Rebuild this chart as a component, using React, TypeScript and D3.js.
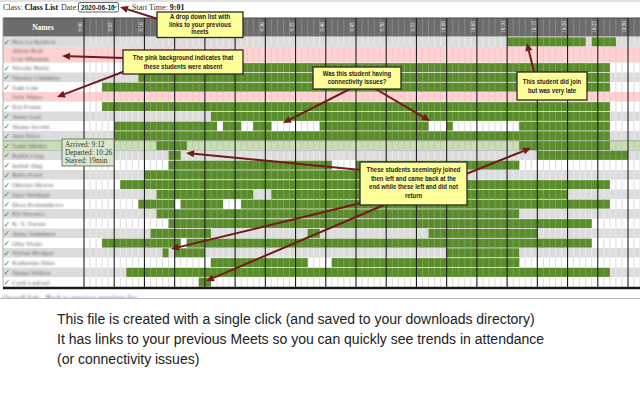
import React from "react";
import * as d3 from "d3";

// ---------- data ----------
const students = [
  "Hoa Le Redrod", "Alicia Bolt|Loy Miranda", "Woody Berta", "Wesley Cimmino", "Sam Lim",
  "Jack Mayo", "Kat Foster", "Tessa Gad", "Shana Jacobs", "Ann Price", "Sami Mehra",
  "Rabbi Ling", "Isabel Ong", "Bella Ford", "Oksana Moroz", "Jaya Siddiqui",
  "Dora Kolesnikova", "Eli Navarro", "K. S. Torres", "Anna Summers", "Olly Vicks",
  "Wylan Hodges", "Katherine Diaz", "Shana Walton", "Cyril Linford",
];
const status = [
  "present", "absent", "present", "present", "present", "absent", "present", "present",
  "present", "present", "selected", "present", "present", "present", "present", "present",
  "present", "present", "present", "present", "present", "present", "present", "present", "present",
];
// minutes after 9:00, [start, end)
const attendance: number[][][] = [
  [[70, 83], [84, 88]],
  [],
  [[9, 87]],
  [[9, 87]],
  [[3, 87]],
  [],
  [[3, 87]],
  [[21, 87]],
  [[5, 22], [23, 26], [28, 31], [39, 57], [60, 61], [72, 87]],
  [[5, 87]],
  [[12, 17], [72, 87]],
  [[14, 16], [75, 90]],
  [[14, 41], [45, 72]],
  [[10, 60]],
  [[6, 87]],
  [[12, 28], [31, 80]],
  [[9, 15], [16, 23], [26, 87]],
  [[12, 72]],
  [[14, 84]],
  [[11, 21], [37, 39], [57, 75]],
  [[3, 16], [17, 84]],
  [[13, 14], [15, 20], [60, 72]],
  [[21, 37], [41, 72]],
  [[7, 87]],
  [[19, 21]],
];
const timeLabels = ["9:00", "9:05", "9:10", "9:15", "9:20", "9:25", "9:30", "9:35", "9:40", "9:45",
  "9:50", "9:55", "10:00", "10:05", "10:10", "10:15", "10:20", "10:25", "10:30"];
const tooltipLines = ["Arrived: 9:12", "Departed: 10:26", "Stayed: 19min"];
const noteDropdown = ["A drop down list with", "links to your previous", "meets"];
const notePink = ["The pink background indicates that", "these students were absent"];
const noteConn = ["Was this student having", "connectivity issues?"];
const noteLate = ["This student did join", "but was very late"];
const noteLeft = ["These students seemingly joined", "then left and came back at the", "end while these left and did not", "return"];
const caption = [
  "This file is created with a single click (and saved to your downloads directory)",
  "It has links to your previous Meets so you can quickly see trends in attendance",
  "(or connectivity issues)",
];

const GREEN = "#5a8c2b";
const SERIF = "'Liberation Serif', 'DejaVu Serif', serif";
const SANS = "'Liberation Sans', Arial, sans-serif";

function Arrow({ x1, y1, x2, y2 }: { x1: number; y1: number; x2: number; y2: number }) {
  const dx = x2 - x1, dy = y2 - y1;
  const len = Math.sqrt(dx * dx + dy * dy);
  const ux = dx / len, uy = dy / len;
  const hl = 8, hw = 3.6;
  const bx = x2 - ux * hl, by = y2 - uy * hl;
  const pts = `${x2},${y2} ${bx - uy * hw},${by + ux * hw} ${bx + uy * hw},${by - ux * hw}`;
  return (
    <g>
      <line x1={x1} y1={y1} x2={bx} y2={by} stroke="#74191b" strokeWidth={2} />
      <polygon points={pts} fill="#74191b" />
    </g>
  );
}

function Note({ x, y, w, h, lines, lineY }: { x: number; y: number; w: number; h: number; lines: string[]; lineY: number[] }) {
  const cx = x + w / 2;
  return (
    <g>
      <rect x={x} y={y} width={w} height={h} fill="#ffff99" stroke="#2a2a2a" strokeWidth={1.3} />
      {lines.map((t, i) => (
        <text key={i} transform={`translate(${cx},${lineY[i]}) scale(0.82,1)`} textAnchor="middle"
          fontFamily={SANS} fontWeight="bold" fontSize={7.3} fill="#1b1b2b">{t}</text>
      ))}
    </g>
  );
}

export default function App() {
  const x = d3.scaleLinear().domain([0, 90]).range([84, 628]);
  const heights = students.map((s) => (s.includes("|") ? 16 : 9.75));
  const tops: number[] = [];
  let acc = 37;
  heights.forEach((h) => { tops.push(acc); acc += h; });
  const bodyBottom = acc;
  const minor = d3.range(1, 93).filter((m) => m % 5 !== 0);
  const major = d3.range(0, 91, 5);

  const rowBg = (i: number) => {
    if (status[i] === "absent") return "#fdd2d2";
    if (status[i] === "selected") return "#c9ddb6";
    return i === 0 || i % 2 === 1 ? "#dcdcdc" : "#ffffff";
  };
  const rowLine = (i: number) => {
    if (status[i] === "absent") return "#f4c2c2";
    if (status[i] === "selected") return "#b3cc9d";
    return i === 0 || i % 2 === 1 ? "#f0f0f0" : "#d3d3d3";
  };

  return (
    <div style={{ position: "fixed", left: 0, top: 0 }}>
      <svg width={640} height={400} style={{ display: "block" }}>
        <defs>
          <filter id="blur" x="-10%" y="-60%" width="120%" height="220%">
            <feGaussianBlur stdDeviation={1.05} />
          </filter>
          <clipPath id="cut"><rect x={0} y={0} width={640} height={298} /></clipPath>
        </defs>
        <rect width={640} height={400} fill="#ffffff" />
        <line x1={0} x2={640} y1={1} y2={1} stroke="#c4c4c4" strokeWidth={1.2} />

        {/* top bar */}
        <text x={3} y={9.5} fontFamily={SERIF} fontSize={8} fill="#333">Class: <tspan fontWeight="bold" fill="#111">Class List</tspan></text>
        <text x={61} y={9.5} fontFamily={SERIF} fontSize={8} fill="#333">Date:</text>
        <rect x={78.5} y={2.5} width={40} height={9.5} rx={1.5} fill="#fff" stroke="#555" strokeWidth={0.9} />
        <text x={81} y={9.8} fontFamily={SANS} fontSize={6.6} fontWeight="bold" fill="#222">2020-06-10</text>
        <path d="M112.5,6 L114.5,8 L116.5,6" fill="none" stroke="#222" strokeWidth={0.9} />
        <text x={132} y={9.5} fontFamily={SERIF} fontSize={8} fill="#333">Start Time: <tspan fontWeight="bold" fill="#111">9:01</tspan></text>

        {/* header */}
        <rect x={3} y={18} width={637} height={18.5} fill="#6c6c6c" />
        <line x1={3} x2={640} y1={18} y2={18} stroke="#444" strokeWidth={1} />
        {minor.map((m) => (
          <line key={m} x1={x(m)} x2={x(m)} y1={18.5} y2={36.5} stroke="#8f8f8f" strokeWidth={0.8} />
        ))}
        <text x={43} y={30} textAnchor="middle" fontFamily={SERIF} fontWeight="bold" fontSize={7.5} fill="#fff">Names</text>
        {major.map((m, i) => (
          <text key={m} transform={`translate(${x(m) - 1.8},27) rotate(-90)`} textAnchor="middle"
            fontFamily={SERIF} fontSize={5.2} fill="#f2f2f2">{timeLabels[i]}</text>
        ))}

        {/* rows */}
        {students.map((s, i) => {
          const y0 = tops[i], h = heights[i];
          const names = s.split("|");
          return (
            <g key={i}>
              <rect x={3} y={y0} width={637} height={h} fill={rowBg(i)} />
              {minor.map((m) => (
                <line key={m} x1={x(m)} x2={x(m)} y1={y0} y2={y0 + h} stroke={rowLine(i)} strokeWidth={0.8} />
              ))}
              {attendance[i].map(([a, b], k) => (
                <g key={k}>
                  <rect x={x(a)} y={y0 + 0.4} width={x(b) - x(a)} height={h - 0.8} fill={GREEN} />
                  {d3.range(a + 1, b).filter((m) => m % 5 !== 0).map((m) => (
                    <line key={m} x1={x(m)} x2={x(m)} y1={y0 + 0.4} y2={y0 + h - 0.4} stroke="#86ac60" strokeWidth={0.7} />
                  ))}
                </g>
              ))}
              {status[i] === "selected" && (
                <g>
                  <line x1={3} x2={640} y1={y0} y2={y0} stroke="#8e9c84" strokeWidth={0.8} />
                  <line x1={3} x2={640} y1={y0 + h} y2={y0 + h} stroke="#8e9c84" strokeWidth={0.8} />
                </g>
              )}
              {status[i] !== "absent" && (
                <text x={3.5} y={y0 + h - 2} fontFamily="'DejaVu Sans', sans-serif" fontSize={8} fill="#2e8a2a">✓</text>
              )}
              {names.map((n, k) => (
                <text key={k} x={12} y={names.length > 1 ? y0 + 6.5 + k * 7.4 : y0 + h - 2.4}
                  fontFamily={SERIF} fontSize={7} fill="#5e5e5e" filter="url(#blur)">{n}</text>
              ))}
            </g>
          );
        })}

        {/* major grid lines */}
        {major.map((m) => (
          <line key={m} x1={x(m)} x2={x(m)} y1={18} y2={bodyBottom} stroke="#1f1f1f" strokeWidth={1.1} />
        ))}
        <line x1={3} x2={3} y1={18} y2={bodyBottom} stroke="#9a9a9a" strokeWidth={0.8} />
        <line x1={3} x2={640} y1={bodyBottom + 1} y2={bodyBottom + 1} stroke="#1a1a1a" strokeWidth={2.4} />

        {/* cut-off footer line of the page */}
        <g clipPath="url(#cut)" filter="url(#blur)">
          <text x={3} y={301} fontFamily={SERIF} fontSize={7.5} fill="#555">Overall link:</text>
          <text x={46} y={301} fontFamily={SERIF} fontSize={7.5} fill="#2233cc">Back to previous meetings list</text>
        </g>
        <line x1={0} x2={640} y1={298.5} y2={298.5} stroke="#b8b8b8" strokeWidth={1} />

        {/* tooltip */}
        <rect x={62} y={139} width={52} height={27} fill="#d9e8cd" stroke="#6f7f63" strokeWidth={1} />
        {tooltipLines.map((t, i) => (
          <text key={i} x={65} y={146.5 + i * 8.3} fontFamily={SERIF} fontSize={7.3} fill="#333">{t}</text>
        ))}

        {/* arrows */}
        <Arrow x1={158} y1={19} x2={120} y2={7} />
        <Arrow x1={124} y1={58} x2={62} y2={56} />
        <Arrow x1={128} y1={70} x2={57} y2={97} />
        <Arrow x1={352} y1={88} x2={283} y2={123} />
        <Arrow x1={374} y1={88} x2={430} y2={121} />
        <Arrow x1={534} y1={72} x2={527} y2={43} />
        <Arrow x1={361} y1={170} x2={186} y2={153} />
        <Arrow x1={466} y1={174} x2={531} y2={148} />
        <Arrow x1={361} y1={203} x2={171} y2={249} />
        <Arrow x1={384} y1={205} x2={206} y2={281} />

        {/* notes */}
        <Note x={157} y={12} w={86} h={25.5} lines={noteDropdown} lineY={[18.8, 26.6, 34.4]} />
        <Note x={123} y={50} w={120} h={24} lines={notePink} lineY={[59.5, 68.5]} />
        <Note x={313} y={67} w={88} h={22} lines={noteConn} lineY={[75.5, 84]} />
        <Note x={517} y={72} w={70} h={28} lines={noteLate} lineY={[84, 93]} />
        <Note x={360} y={162} w={107} h={43} lines={noteLeft} lineY={[172, 180.5, 189, 197.5]} />

        {/* caption */}
        {caption.map((t, i) => (
          <text key={i} transform={`translate(57,${324 + i * 19.8}) scale(0.98,1)`}
            fontFamily={SANS} fontSize={14.3} fill="#222">{t}</text>
        ))}
      </svg>
    </div>
  );
}
